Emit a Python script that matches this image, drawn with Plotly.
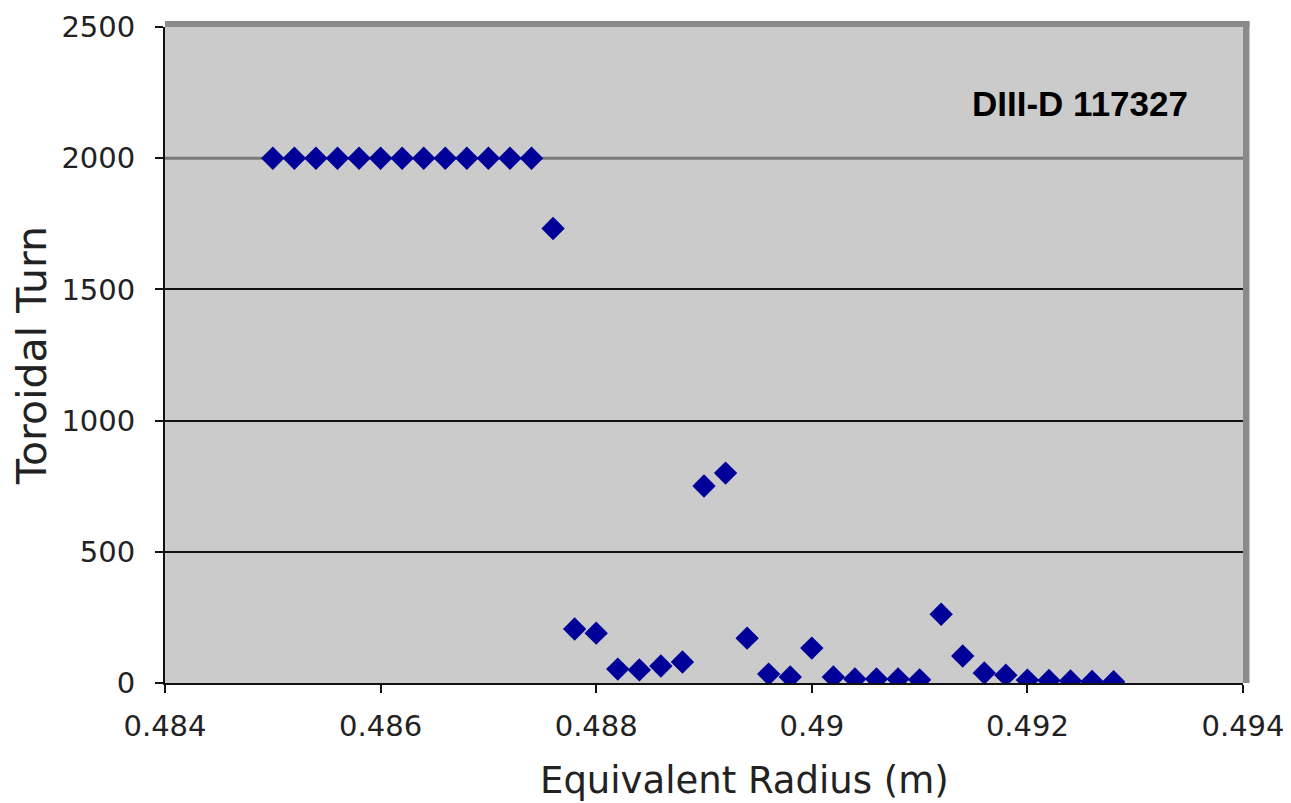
import plotly.graph_objects as go

radius = [0.4850, 0.4852, 0.4854, 0.4856, 0.4858, 0.4860, 0.4862, 0.4864, 0.4866, 0.4868,
          0.4870, 0.4872, 0.4874, 0.4876, 0.4878, 0.4880, 0.4882, 0.4884, 0.4886, 0.4888,
          0.4890, 0.4892, 0.4894, 0.4896, 0.4898, 0.4900, 0.4902, 0.4904, 0.4906, 0.4908,
          0.4910, 0.4912, 0.4914, 0.4916, 0.4918, 0.4920, 0.4922, 0.4924, 0.4926, 0.4928]
turns = [2000, 2000, 2000, 2000, 2000, 2000, 2000, 2000, 2000, 2000,
         2000, 2000, 2000, 1732, 206, 190, 53, 50, 65, 80,
         751, 800, 171, 34, 23, 133, 23, 15, 15, 15,
         12, 262, 103, 38, 30, 11, 10, 8, 6, 5]

x_ticks = [0.484, 0.486, 0.488, 0.490, 0.492, 0.494]
x_tick_labels = ["0.484", "0.486", "0.488", "0.49", "0.492", "0.494"]
y_ticks = [0, 500, 1000, 1500, 2000, 2500]
y_tick_labels = ["0", "500", "1000", "1500", "2000", "2500"]
black_grid = [500, 1000, 1500]

fig = go.Figure()
fig.add_trace(go.Scatter(
    x=radius, y=turns, mode="markers",
    marker=dict(symbol="diamond", size=18, color="#000099",
                line=dict(width=0)),
    showlegend=False,
))

tick_font = dict(family="DejaVu Sans", size=29, color="#222")
fig.update_layout(
    width=1283, height=795,
    margin=dict(l=157, r=48, t=19, b=120),
    paper_bgcolor="white",
    plot_bgcolor="#cbcbcb",
    xaxis=dict(
        range=[0.484, 0.494], tickvals=x_ticks, ticktext=x_tick_labels,
        showgrid=False, zeroline=False, automargin=False,
        showline=True, linecolor="#111", linewidth=2,
        ticks="outside", ticklen=8, tickcolor="#111", tickwidth=2,
        tickfont=tick_font, ticklabelstandoff=8,
    ),
    yaxis=dict(
        range=[0, 2500], tickvals=y_ticks, ticktext=y_tick_labels,
        showgrid=False, zeroline=False, automargin=False,
        showline=True, linecolor="#111", linewidth=2,
        ticks="outside", ticklen=8, tickcolor="#111", tickwidth=2,
        tickfont=tick_font, ticklabelstandoff=14,
        minor=dict(tickvals=black_grid, showgrid=True, gridcolor="#111",
                   gridwidth=2, ticks=""),
        title=dict(text="Toroidal Turn",
                   font=dict(family="DejaVu Sans", size=41, color="#222"),
                   standoff=15),
    ),
    annotations=[
        dict(
            x=0.49249, y=2210, xref="x", yref="y",
            text="<b>DIII-D 117327</b>", showarrow=False,
            font=dict(family="Liberation Sans", size=35, color="#000"),
            xanchor="center", yanchor="middle",
        ),
        dict(
            x=0.538, y=-0.148, xref="paper", yref="paper",
            text="Equivalent Radius (m)", showarrow=False,
            font=dict(family="DejaVu Sans", size=37, color="#222"),
            xanchor="center", yanchor="middle",
        ),
    ],
    shapes=[
        dict(type="line", xref="paper", yref="y", x0=0, x1=1, y0=2000, y1=2000,
             line=dict(color="#7a7a7a", width=3), layer="below"),
        dict(type="rect", xref="paper", yref="paper", x0=0, x1=1.006, y0=1.0, y1=1.009,
             fillcolor="#8a8a8a", line=dict(width=0), layer="above"),
        dict(type="rect", xref="paper", yref="paper", x0=1.0, x1=1.006, y0=0, y1=1.009,
             fillcolor="#8a8a8a", line=dict(width=0), layer="above"),
    ],
)

fig.write_html("out.html")
